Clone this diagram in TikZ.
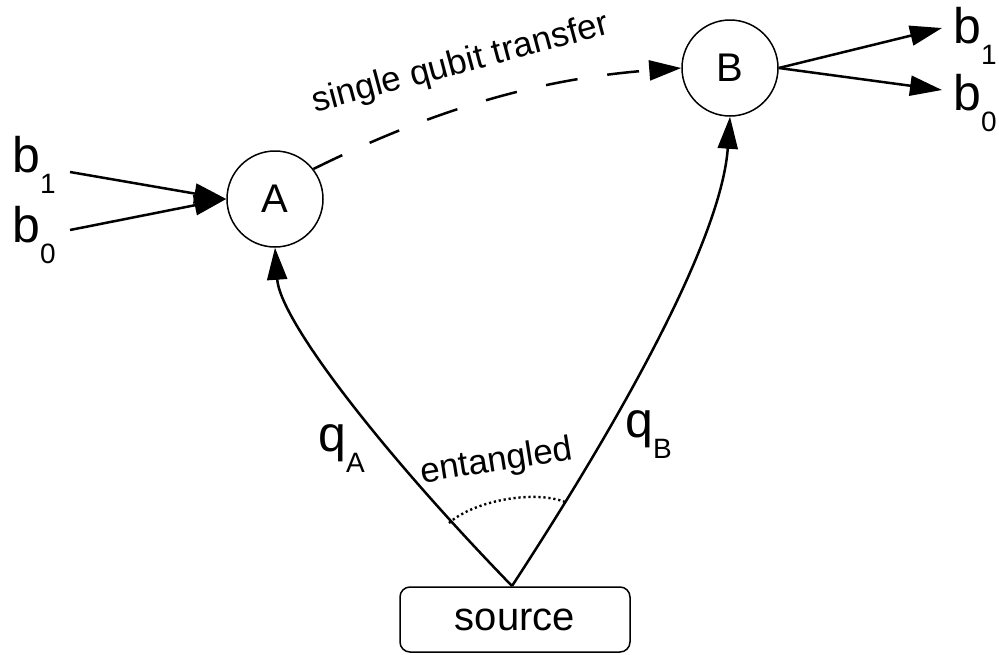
\documentclass[tikz,border=0pt]{standalone}
\usepackage{fontspec}
\setmainfont{Liberation Sans}
\usetikzlibrary{arrows.meta}
\newcommand\subtxt[1]{\raisebox{-21pt}{\fontsize{28}{28}\selectfont #1}}
\begin{document}
\begin{tikzpicture}[x=1pt,y=-1pt,
  conn/.style={line width=2.5pt, -{Triangle[length=32pt,width=20pt]}},
  station/.style={circle, draw, line width=1.5pt, minimum size=96pt, inner sep=0pt, font=\fontsize{40}{48}\selectfont},
  srcbox/.style={draw, line width=1.5pt, rounded corners=10pt, minimum width=230pt, minimum height=65pt, inner sep=0pt, font=\fontsize{40}{48}\selectfont},
  lbl/.style={inner sep=0pt, anchor=base west, font=\fontsize{50}{60}\selectfont},
  small/.style={font=\fontsize{35}{42}\selectfont, inner sep=0pt, anchor=base}]
\useasboundingbox (0,0) rectangle (999,654);

% nodes
\node[station] (A) at (275,199) {A};
\node[station] (B) at (730,68) {B};
\node[srcbox] (src) at (515,619.5) {source};

% labels
\node[lbl] (bA1) at (12,172) {b\subtxt{1}};
\node[lbl] (bA0) at (12,242) {b\subtxt{0}};
\node[lbl] (bB1) at (953,43) {b\subtxt{1}};
\node[lbl] (bB0) at (953,110) {b\subtxt{0}};
\node[lbl] (qA) at (318,451) {q\subtxt{A}};
\node[lbl] (qB) at (625,437.5) {q\subtxt{B}};

% input/output end points
\coordinate (inA1) at (70,172);
\coordinate (inA0) at (70,230);
\coordinate (outB1) at (942,28);
\coordinate (outB0) at (942,90);
\coordinate (s) at (512,586);

% b inputs to A
\draw[conn] (inA1) -- (A.west);
\draw[conn] (inA0) -- (A.west);
% b outputs from B
\draw[conn] (B.east) -- (outB1);
\draw[conn] (B.east) -- (outB0);

% source to A and B
\draw[conn] (s) .. controls (380,450) and (280,320) .. (A.south);
\draw[conn] (s) .. controls (640,390) and (722,230) .. (B.south);

% single qubit transfer
\draw[conn, dash pattern=on 32pt off 30pt] (A.38) .. controls (443,105) and (548,78) .. (B.west);
\node[small, rotate=15] (sqt) at (463,73) {single qubit transfer};

% entangled
\coordinate (e1) at (449,523);
\coordinate (e2) at (565,502);
\draw[line width=2.4pt, dash pattern=on 2.2pt off 2.8pt] (e1) .. controls (475,500) and (535,490) .. (e2);
\node[small, rotate=9] (ent) at (498,471) {entangled};
\end{tikzpicture}
\end{document}
